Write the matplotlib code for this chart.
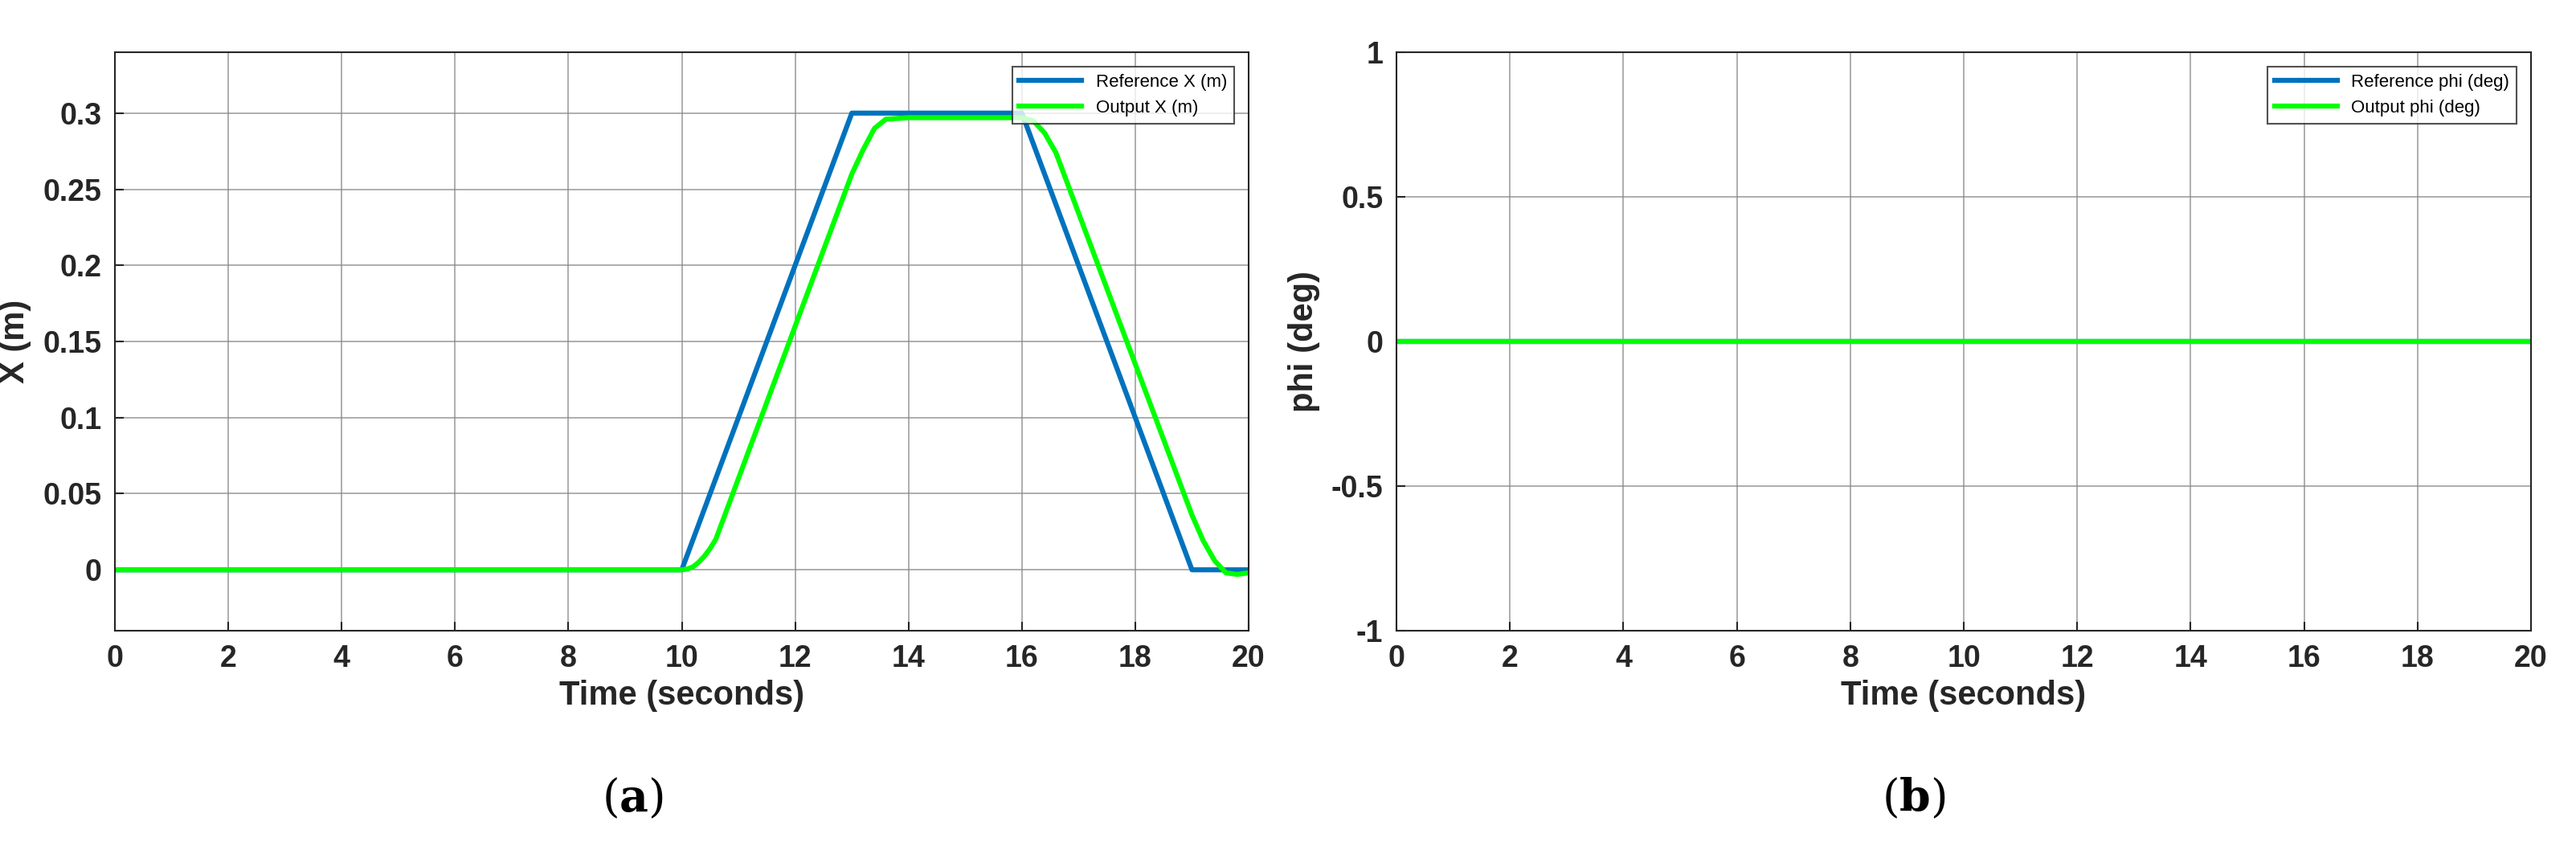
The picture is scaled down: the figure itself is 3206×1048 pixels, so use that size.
import matplotlib
matplotlib.use("Agg")
import matplotlib.pyplot as plt

plt.rcParams['font.family'] = ['Liberation Sans', 'DejaVu Sans']
plt.rcParams['mathtext.fontset'] = 'dejavuserif'

ref_t = [0, 10, 13, 16, 19, 20]
ref_x = [0, 0, 0.3, 0.3, 0, 0]
out_t = [0, 10, 10.1, 10.2, 10.3, 10.4, 10.5, 10.6, 13.0, 13.2, 13.4, 13.6, 14.0, 16.0, 16.2, 16.4, 16.6, 19.0, 19.2, 19.4, 19.6, 19.8, 20.0]
out_x = [0, 0, 0.0005, 0.002, 0.005, 0.009, 0.014, 0.02, 0.26, 0.276, 0.29, 0.296, 0.297, 0.297, 0.295, 0.287, 0.274, 0.036, 0.019, 0.006, -0.002, -0.003, -0.002]
phi_t = [0, 20]
phi_ref = [0, 0]
phi_out = [0, 0]
xticks = list(range(0, 21, 2))
yticks_a = [0, 0.05, 0.1, 0.15, 0.2, 0.25, 0.3]
yticks_b = [-1, -0.5, 0, 0.5, 1]

BLUE = '#0072BD'
GREEN = '#00FF00'
fig = plt.figure(figsize=(32.06, 10.48), dpi=100)
W, H = 3206, 1048
axA = fig.add_axes([143/W, 1-785/H, 1411/W, 720/H])
axB = fig.add_axes([1738/W, 1-785/H, 1412/W, 720/H])

def style(ax, ylabel, yticks, ylim):
    ax.set_xlim(0, 20)
    ax.set_ylim(*ylim)
    ax.set_xticks(xticks)
    ax.set_yticks(yticks)
    ax.set_yticklabels([('%g' % v) for v in yticks])
    ax.grid(True, color='#888888', linewidth=1.2, alpha=0.8)
    ax.tick_params(labelsize=27, direction='in', length=8, width=1.5, colors='#262626', pad=12)
    for lab in ax.get_xticklabels() + ax.get_yticklabels():
        lab.set_fontweight('bold')
    for s in ax.spines.values():
        s.set_color('#262626'); s.set_linewidth(1.5)
    ax.set_xlabel('Time (seconds)', fontsize=30, fontweight='bold', color='#262626', labelpad=6)
    ax.set_ylabel(ylabel, fontsize=30, fontweight='bold', color='#262626', labelpad=10)

axA.plot(ref_t, ref_x, color=BLUE, lw=4.5, label='Reference X (m)')
axA.plot(out_t, out_x, color=GREEN, lw=4.5, label='Output X (m)')
style(axA, 'X (m)', yticks_a, (-0.04, 0.34))
axA.legend(loc='upper right', fontsize=16, frameon=True, fancybox=False, edgecolor='#262626',
           handlelength=3.5, borderaxespad=0.8).get_frame().set_linewidth(1.5)

axB.plot(phi_t, phi_ref, color=BLUE, lw=4.5, label='Reference phi (deg)')
axB.plot(phi_t, phi_out, color=GREEN, lw=4.5, label='Output phi (deg)')
style(axB, 'phi (deg)', yticks_b, (-1, 1))
axB.legend(loc='upper right', fontsize=16, frameon=True, fancybox=False, edgecolor='#262626',
           handlelength=3.5, borderaxespad=0.8).get_frame().set_linewidth(1.5)

fig.text(787/W, 1-994/H, r'($\mathbf{a}$)', fontsize=40, family='DejaVu Serif', ha='center', va='center')
fig.text(2382/W, 1-994/H, r'($\mathbf{b}$)', fontsize=40, family='DejaVu Serif', ha='center', va='center')
fig.savefig('out.png', dpi=100, facecolor='white')
